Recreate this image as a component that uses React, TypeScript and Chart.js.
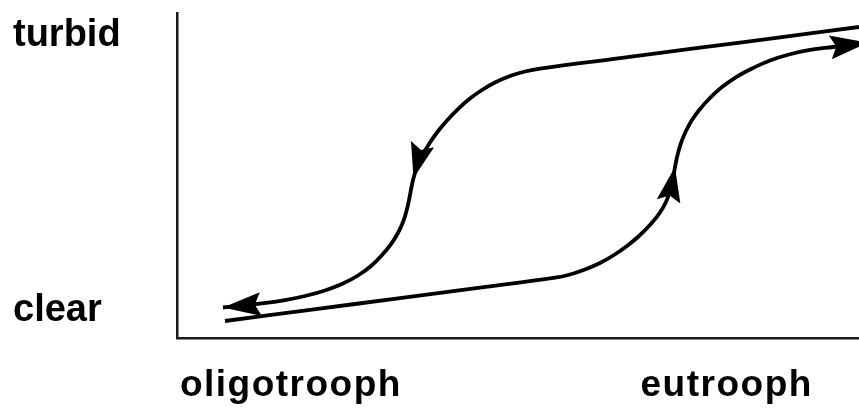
import { useEffect, useRef } from 'react';
import { Chart, registerables } from 'chart.js';

Chart.register(...registerables);

// Upper branch (turbid -> clear), drawn right to left
const upperX = [100.0, 88.42, 76.69, 64.96, 53.23, 51.03, 48.83, 46.63, 44.72, 42.96, 41.2, 39.59, 38.12, 36.95, 35.92, 35.19, 34.68, 34.31, 34.02, 33.65, 33.14, 32.4, 31.38, 30.06, 28.45, 26.54, 24.34, 21.7, 18.77, 15.84, 12.46, 9.24, 6.74];
const upperY = [95.69, 92.52, 89.32, 86.12, 82.92, 82.0, 80.62, 78.62, 76.31, 73.69, 70.46, 66.92, 63.23, 59.69, 56.0, 52.62, 49.23, 45.69, 42.46, 39.08, 35.69, 32.31, 28.92, 25.54, 22.15, 19.23, 16.77, 14.62, 12.92, 11.69, 10.62, 9.85, 9.38];
const upperMidArrow = 16;

// Lower branch (clear -> turbid), drawn left to right
const lowerX = [7.04, 19.5, 32.7, 44.43, 55.43, 57.62, 59.82, 62.02, 64.08, 65.98, 67.74, 69.35, 70.67, 71.7, 72.29, 72.73, 73.02, 73.39, 73.9, 74.63, 75.51, 76.69, 78.15, 79.91, 82.11, 84.46, 86.95, 89.74, 92.82, 96.19, 101.32];
const lowerY = [5.23, 8.65, 12.28, 15.51, 18.55, 19.54, 21.08, 23.08, 25.54, 28.31, 31.38, 34.77, 38.15, 41.85, 45.23, 48.92, 52.62, 56.31, 60.0, 63.69, 67.08, 70.46, 73.85, 77.23, 80.46, 83.08, 85.38, 87.23, 88.62, 89.54, 90.92];
const lowerMidArrow = 16;

const xTickValues = [16.7, 80.6];
const xTickLabels = ['oligotrooph', 'eutrooph'];
const yTickValues = [8.6, 93.0];
const yTickLabels = ['clear', 'turbid'];

const FONT = '"Liberation Sans", Arial, Helvetica, sans-serif';

function drawArrow(ctx: CanvasRenderingContext2D, tx: number, ty: number, dx: number, dy: number, L: number, W: number, notch: number) {
  const len = Math.hypot(dx, dy) || 1;
  dx /= len;
  dy /= len;
  const nx = -dy;
  const ny = dx;
  const bx = tx - dx * L;
  const by = ty - dy * L;
  ctx.beginPath();
  ctx.moveTo(tx, ty);
  ctx.lineTo(bx + nx * W, by + ny * W);
  ctx.lineTo(tx - dx * (L - notch), ty - dy * (L - notch));
  ctx.lineTo(bx - nx * W, by - ny * W);
  ctx.closePath();
  ctx.fill();
}

const arrowPlugin = {
  id: 'hysteresisArrows',
  afterDatasetsDraw(chart: any) {
    const ctx: CanvasRenderingContext2D = chart.ctx;
    ctx.save();
    ctx.fillStyle = '#000';
    const sets: [number, number][] = [[0, upperMidArrow], [1, lowerMidArrow]];
    sets.forEach(([ds, mid]) => {
      const pts = chart.getDatasetMeta(ds).data;
      // arrow in the middle of the curve, along the local tangent
      const t = pts[mid];
      drawArrow(ctx, t.x, t.y, pts[mid + 1].x - pts[mid - 1].x, pts[mid + 1].y - pts[mid - 1].y, 35, 12, 6);
      // arrow at the end of the branch
      const e = pts[pts.length - 1];
      const p = pts[pts.length - 2];
      drawArrow(ctx, e.x, e.y, e.x - p.x, e.y - p.y, 38, 12, 6);
    });
    ctx.restore();
    (ctx as any).letterSpacing = '1.5px';
  },
  afterDraw(chart: any) {
    (chart.ctx as any).letterSpacing = '0px';
  },
};

export default function App() {
  const ref = useRef<HTMLCanvasElement>(null);
  useEffect(() => {
    const lineStyle = {
      showLine: true,
      borderColor: '#000',
      borderWidth: 3.8,
      pointRadius: 0,
      tension: 0.4,
      fill: false,
    };
    const chart = new Chart(ref.current as HTMLCanvasElement, {
      type: 'scatter',
      data: {
        datasets: [
          { ...lineStyle, data: upperX.map((x, i) => ({ x, y: upperY[i] })) },
          { ...lineStyle, data: lowerX.map((x, i) => ({ x, y: lowerY[i] })) },
        ],
      },
      options: {
        animation: false,
        responsive: true,
        maintainAspectRatio: false,
        events: [],
        layout: { padding: { left: 13, top: 13, right: 0, bottom: 0 } },
        plugins: { legend: { display: false }, tooltip: { enabled: false } },
        scales: {
          x: {
            type: 'linear',
            min: 0,
            max: 100,
            grid: { display: false, drawTicks: false },
            border: { display: true, color: '#1a1a1a', width: 2.5 },
            afterBuildTicks: (s: any) => {
              s.ticks = xTickValues.map((v) => ({ value: v }));
            },
            afterFit: (s: any) => {
              s.height = 74;
              s.paddingLeft = 0;
              s.paddingRight = 0;
              s.paddingTop = 0;
              s.paddingBottom = 0;
            },
            ticks: {
              autoSkip: false,
              maxRotation: 0,
              minRotation: 0,
              padding: 26,
              color: '#000',
              z: 1,
              font: { family: FONT, size: 37, weight: 'bold' },
              callback: (_v: any, i: number) => xTickLabels[i],
            },
          },
          y: {
            type: 'linear',
            min: 0,
            max: 100,
            grid: { display: false, drawTicks: false },
            border: { display: true, color: '#1a1a1a', width: 2.5 },
            afterBuildTicks: (s: any) => {
              s.ticks = yTickValues.map((v) => ({ value: v }));
            },
            afterFit: (s: any) => {
              s.width = 164;
              s.paddingLeft = 0;
              s.paddingRight = 0;
              s.paddingTop = 0;
              s.paddingBottom = 0;
            },
            ticks: {
              autoSkip: false,
              crossAlign: 'far',
              color: '#000',
              font: { family: FONT, size: 38, weight: 'bold' },
              callback: (_v: any, i: number) => yTickLabels[i],
            },
          },
        },
      } as any,
      plugins: [arrowPlugin],
    });
    return () => chart.destroy();
  }, []);
  return (
    <div style={{ position: 'absolute', left: 0, top: 0, width: 859, height: 412, background: '#fff' }}>
      <canvas ref={ref} />
    </div>
  );
}
